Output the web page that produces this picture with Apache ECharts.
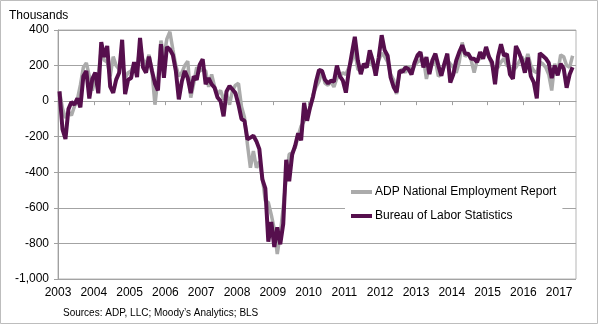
<!DOCTYPE html>
<html>
<head>
<meta charset="utf-8">
<script src="https://cdn.jsdelivr.net/npm/echarts@6/dist/echarts.min.js"></script>
<style>
html,body{margin:0;padding:0;background:#fff;}
#chart{width:600px;height:325px;}
</style>
</head>
<body>
<div id="chart"></div>
<script>
// Monthly data, Jan 2003 – May 2017 (thousands)
const startYear = 2003;
const yearTicks = [2003,2004,2005,2006,2007,2008,2009,2010,2011,2012,2013,2014,2015,2016,2017];
const seriesNames = ['ADP National Employment Report', 'Bureau of Labor Statistics'];

const adp = [
  55, -40, -95, -60, -80, -30, 10, 90, 190, 215, 140, 60,
  130, 150, 290, 230, 220, 140, 250, 200, 180, 220, 130, 160,
  170, 210, 180, 310, 230, 210, 260, 170, -20, 130, 340, 250,
  350, 390, 290, 200, 140, 160, 200, 225, 20, 100, 190, 170,
  180, 170, 80, 150, 80, 40, 60, 10, 40, -20, 60, 90,
  100, -30, -90, -243, -374, -280, -374, -340, -430, -560, -570, -640,
  -720, -860, -748, -598, -430, -299, -290, -262, -196, -140, -112, -80,
  -37, 37, 80, 112, 170, 100, 90, 110, 80, 130, 140, 160,
  150, 190, 230, 280, 180, 170, 200, 190, 240, 200, 170, 230,
  270, 250, 220, 150, 120, 40, 170, 180, 160, 200, 160, 200,
  220, 230, 240, 125, 200, 210, 230, 140, 150, 200, 230, 210,
  190, 160, 220, 330, 250, 270, 230, 160, 230, 240, 260, 270,
  250, 200, 180, 190, 220, 240, 200, 190, 170, 190, 220, 250,
  210, 265, 200, 170, 160, 220, 210, 190, 150, 60, 210, 160,
  260, 250, 200, 190, 255
];

const bls = [
  55, -157, -213, -45, -5, -20, 15, -35, 140, 170, 15, 125,
  161, 44, 332, 249, 310, 81, 47, 121, 160, 345, 40, 120,
  130, 220, 135, 355, 190, 160, 250, 170, 100, 60, 320, 131,
  305, 290, 260, 170, 10, 110, 170, 130, 45, 140, 120, 205,
  235, 95, 130, 95, 75, 20, 0, -85, 55, 85, 65, 45,
  -20, -100, -110, -215, -205, -195, -225, -270, -440, -490, -790, -680,
  -820, -710, -805, -690, -330, -450, -300, -250, -180, -220, -10, -110,
  -35, 25, 110, 175, 170, 120, 100, 115, 110, 200, 140, 115,
  48, 171, 267, 362, 229, 152, 210, 190, 286, 229, 143, 245,
  371, 286, 255, 133, 80, 50, 170, 165, 190, 180, 150, 215,
  257, 276, 190, 248, 152, 230, 267, 200, 143, 210, 267, 105,
  150, 229, 276, 314, 267, 267, 238, 238, 219, 276, 238, 305,
  248, 219, 95, 250, 320, 255, 265, 150, 125, 310, 275, 230,
  160, 245, 140, 105, 15, 270, 255, 240, 215, 130, 200, 145,
  210, 185, 75, 150, 190
];

// month i -> mid-month position in decimal years
function monthPos(i){ return startYear + Math.floor(i/12) + ((i%12) + 0.5)/12; }
const adpData = adp.map((v,i)=>[monthPos(i), v]);
const blsData = bls.map((v,i)=>[monthPos(i), v]);

const FONT = '"Liberation Sans", Arial, sans-serif';
const chart = echarts.init(document.getElementById('chart'), null, {renderer:'canvas'});
chart.setOption({
  animation: false,
  backgroundColor: '#fff',
  textStyle: {fontFamily: FONT},
  grid: {left: 58, right: 24, top: 30, bottom: 46, show: true, borderColor: '#b5b5b5', borderWidth: 1, containLabel: false},
  title: {text: 'Thousands', left: 4, top: 5, textStyle: {fontSize: 12, fontWeight: 'normal', color: '#000', fontFamily: FONT}},
  legend: {
    orient: 'vertical', left: 345, top: 179, padding: [7, 6], itemGap: 12,
    backgroundColor: '#fff', itemWidth: 21, itemHeight: 4, icon: 'rect',
    textStyle: {fontSize: 12, color: '#000', fontFamily: FONT, padding: [0,0,0,-2]},
    data: seriesNames
  },
  xAxis: {
    type: 'value', min: yearTicks[0], max: 2017.47, interval: 1,
    axisLine: {show: true, lineStyle: {color: '#a0a0a0'}},
    axisTick: {show: true, length: 4, lineStyle: {color: '#a0a0a0'}},
    splitLine: {show: false},
    axisLabel: {
      fontSize: 12, color: '#000', margin: 8, showMaxLabel: false,
      formatter: v => yearTicks.includes(Math.round(v*1000)/1000) ? String(v) : ''
    }
  },
  yAxis: {
    type: 'value', min: -1000, max: 400, interval: 200,
    axisLine: {show: true, lineStyle: {color: '#a0a0a0'}},
    axisTick: {show: true, length: 4, lineStyle: {color: '#a0a0a0'}},
    splitLine: {show: true, lineStyle: {color: '#a3a3a3', width: 1}},
    axisLabel: {fontSize: 12, color: '#000', margin: 9,
      formatter: v => v.toLocaleString('en-US')}
  },
  series: [
    {name: seriesNames[0], type: 'line', data: adpData, showSymbol: false, symbol: 'none',
     lineStyle: {color: '#ababab', width: 3.5}, itemStyle: {color: '#ababab'}, z: 2},
    {name: seriesNames[1], type: 'line', data: blsData, showSymbol: false, symbol: 'none',
     lineStyle: {color: '#560f4d', width: 4}, itemStyle: {color: '#560f4d'}, z: 3}
  ],
  graphic: [
    {type: 'rect', shape: {x: 0.5, y: 0.5, width: 597, height: 323}, style: {fill: null, stroke: '#bdbdbd', lineWidth: 1}, silent: true},
    {type: 'text', left: 63, top: 308, style: {text: 'Sources: ADP, LLC; Moody\u2019s Analytics; BLS', font: '10px ' + FONT, fill: '#000'}}
  ]
});
</script>
</body>
</html>
